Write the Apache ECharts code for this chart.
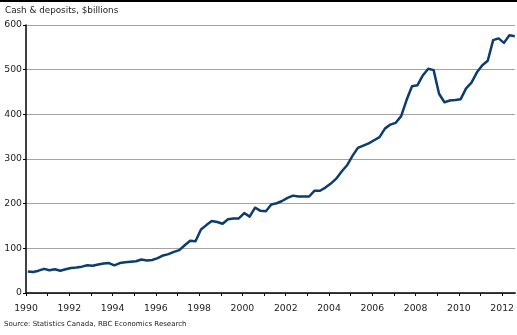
<!DOCTYPE html>
<html>
<head>
<meta charset="utf-8">
<script src="https://cdn.jsdelivr.net/npm/echarts@6/dist/echarts.min.js"></script>
<style>
  html, body { margin: 0; padding: 0; background: #fff; }
  #chart { width: 517px; height: 335px; }
</style>
</head>
<body>
<div id="chart"></div>
<script>
  // quarterly cash & deposits, $billions, 1990Q1 .. 2012Q3
  var startYear = 1990;
  var deposits = [
    48, 47, 50, 54, 51, 53, 50, 53,
    56, 57, 59, 62, 61, 64, 66, 67,
    62, 67, 69, 70, 71, 75, 73, 74,
    78, 84, 87, 92, 96, 107, 117, 116,
    142, 152, 161, 159, 155, 165, 167, 167,
    179, 171, 191, 184, 183, 198, 201, 206,
    213, 218, 216, 216, 216, 229, 229, 236,
    245, 256, 272, 286, 307, 325, 330, 335,
    342, 349, 368, 377, 381, 396, 432, 463,
    465, 487, 502, 499, 446, 427, 431, 432,
    434, 458, 471, 494, 510, 520, 566, 570,
    560, 577, 575
  ];
  var yTicks = [0, 100, 200, 300, 400, 500, 600];
  var yearLabels = [1990, 1992, 1994, 1996, 1998, 2000, 2002, 2004, 2006, 2008, 2010, 2012];

  // quarter points, dated at mid-quarter month
  var points = deposits.map(function (v, i) {
    return [startYear + i / 4 + 1 / 12, v];
  });

  var font = 'DejaVu Sans';
  var chart = echarts.init(document.getElementById('chart'), null, { renderer: 'canvas' });
  chart.setOption({
    animation: false,
    backgroundColor: '#fff',
    graphic: [
      { type: 'rect', shape: { x: 0, y: 0, width: 517, height: 2 }, style: { fill: '#000' } },
      {
        type: 'text', left: 5, top: 6,
        style: { text: 'Cash & deposits, $billions', font: '8.8px ' + font, fill: '#222' }
      },
      {
        type: 'text', left: 4, top: 321,
        style: { text: 'Source: Statistics Canada, RBC Economics Research', font: '7px ' + font, fill: '#222' }
      }
    ],
    grid: { left: 26, right: 1, top: 25, bottom: 42, containLabel: false },
    xAxis: {
      type: 'value',
      min: 1990,
      max: 2012.6,
      interval: 1,
      axisLine: { show: true, onZero: false, lineStyle: { color: '#000', width: 1.5 } },
      axisTick: { show: true, length: 3, lineStyle: { color: '#000' } },
      axisLabel: {
        color: '#222', fontFamily: font, fontSize: 9.3, margin: 11,
        showMaxLabel: false,
        formatter: function (v) {
          return yearLabels.indexOf(v) >= 0 ? String(v) : '';
        }
      },
      splitLine: { show: false }
    },
    yAxis: {
      type: 'value',
      min: yTicks[0],
      max: yTicks[yTicks.length - 1],
      interval: 100,
      axisLine: { show: true, lineStyle: { color: '#000', width: 1.5 } },
      axisTick: { show: true, length: 3, lineStyle: { color: '#000' } },
      axisLabel: { color: '#222', fontFamily: font, fontSize: 9.3, margin: 4 },
      splitLine: { show: true, lineStyle: { color: '#a3a3a3', width: 1 } }
    },
    series: [{
      type: 'line',
      data: points,
      showSymbol: false,
      symbol: 'none',
      lineStyle: { color: '#0d3c6e', width: 2.5, join: 'round' }
    }]
  });
</script>
</body>
</html>
